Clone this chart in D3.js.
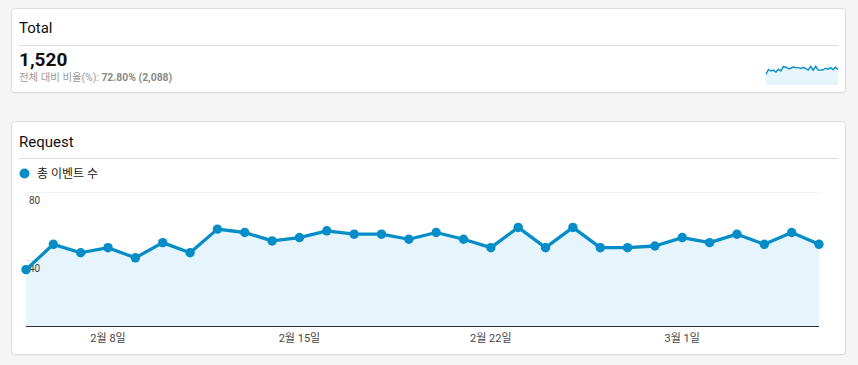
<!DOCTYPE html>
<html><head><meta charset="utf-8">
<script src="https://cdn.jsdelivr.net/npm/d3@7"></script>
<style>
html,body{margin:0;padding:0;background:#f5f5f5;}
body{width:858px;height:365px;overflow:hidden;font-family:Roboto,"Noto Sans CJK KR","Noto Sans",sans-serif;}
</style></head>
<body>
<svg id="c" width="858" height="365"></svg>
<script>
const startDate = new Date(2023, 1, 5);
const values = [34,49,44,47,41,50,44,58,56,51,53,57,55,55,52,56,52,47,59,47,59,47,47,48,53,50,55,49,56,49];
const dates = values.map((v,i)=>new Date(2023,1,5+i));
const yTicks = [40, 80];
const xTickDates = [new Date(2023,1,8), new Date(2023,1,15), new Date(2023,1,22), new Date(2023,2,1)];
const totalValue = 1520;
const totalAll = 2088;
const seriesName = "총 이벤트 수";
const lineColor = "#058dc7";
const fillColor = "#e6f4fc";

const svg = d3.select("#c");

function card(x,y,w,h){
  svg.append("rect").attr("x",x+0.5).attr("y",y+1.5).attr("width",w).attr("height",h).attr("rx",3)
    .attr("fill","#e9e9e9");
  svg.append("rect").attr("x",x+0.5).attr("y",y+0.5).attr("width",w).attr("height",h).attr("rx",3)
    .attr("fill","#fff").attr("stroke","#dcdcdc");
}
card(11,8,834,84);
card(11,121,834,233);

// Card 1
svg.append("text").attr("x",19).attr("y",33).attr("font-size",15).attr("fill","#111").text("Total");
svg.append("line").attr("x1",19).attr("x2",838).attr("y1",45.5).attr("y2",45.5).attr("stroke","#dedede");
svg.append("text").attr("x",19).attr("y",66).attr("font-size",19).attr("font-weight","bold").attr("fill","#111")
  .text(d3.format(",")(totalValue));
const sub = svg.append("text").attr("x",19).attr("y",80.5).attr("font-size",10.4).attr("fill","#999");
sub.append("tspan").text("전체 대비 비율(%): ");
sub.append("tspan").attr("font-weight","bold").attr("fill","#8a8a8a")
  .text(d3.format(".2f")(totalValue/totalAll*100)+"% ("+d3.format(",")(totalAll)+")");

// sparkline
const sx = d3.scaleLinear().domain([0, values.length-1]).range([766, 838]);
const sy = d3.scaleLinear().domain([0, 60]).range([85, 66]);
svg.append("path").datum(values).attr("fill",fillColor)
  .attr("d", d3.area().x((d,i)=>sx(i)).y0(sy(0)).y1(d=>sy(d)));
svg.append("path").datum(values).attr("fill","none").attr("stroke",lineColor).attr("stroke-width",1.4)
  .attr("d", d3.line().x((d,i)=>sx(i)).y(d=>sy(d)));

// Card 2
svg.append("text").attr("x",19).attr("y",147).attr("font-size",15).attr("fill","#111").text("Request");
svg.append("line").attr("x1",19).attr("x2",838).attr("y1",158.5).attr("y2",158.5).attr("stroke","#dedede");
svg.append("circle").attr("cx",24.5).attr("cy",173.5).attr("r",5).attr("fill",lineColor);
svg.append("text").attr("x",37).attr("y",178).attr("font-size",12).attr("fill","#222").text(seriesName);

const x = d3.scaleTime().domain([dates[0], dates[dates.length-1]]).range([26, 819]);
const y = d3.scaleLinear().domain([0, 80]).range([327, 192]);

const g = svg.append("g");
yTicks.forEach(t=>{
  g.append("line").attr("x1",26).attr("x2",819).attr("y1",Math.round(y(t))+0.5).attr("y2",Math.round(y(t))+0.5)
    .attr("stroke", t===80 ? "#f0f0f0" : "#e3e3e3");
});

svg.append("path").datum(values).attr("fill",fillColor)
  .attr("d", d3.area().x((d,i)=>x(dates[i])).y0(y(0)).y1(d=>y(d)));
svg.append("line").attr("x1",26).attr("x2",819).attr("y1",326.5).attr("y2",326.5).attr("stroke","#333").attr("stroke-width",1);

yTicks.forEach(t=>{
  svg.append("text").attr("x",29).attr("y",y(t)+12).attr("font-size",10).attr("fill","#444").text(t);
});

svg.append("path").datum(values).attr("fill","none").attr("stroke",lineColor).attr("stroke-width",3.3)
  .attr("stroke-linejoin","round")
  .attr("d", d3.line().x((d,i)=>x(dates[i])).y(d=>y(d)));
svg.selectAll("circle.pt").data(values).enter().append("circle").attr("class","pt")
  .attr("cx",(d,i)=>x(dates[i])).attr("cy",d=>y(d)).attr("r",4.7).attr("fill",lineColor);

const fmt = d=> (d.getMonth()+1)+"월 "+d.getDate()+"일";
xTickDates.forEach(d=>{
  svg.append("text").attr("x",x(d)).attr("y",342).attr("text-anchor","middle").attr("font-size",11)
    .attr("fill","#444").text(fmt(d));
});
</script>
</body></html>
